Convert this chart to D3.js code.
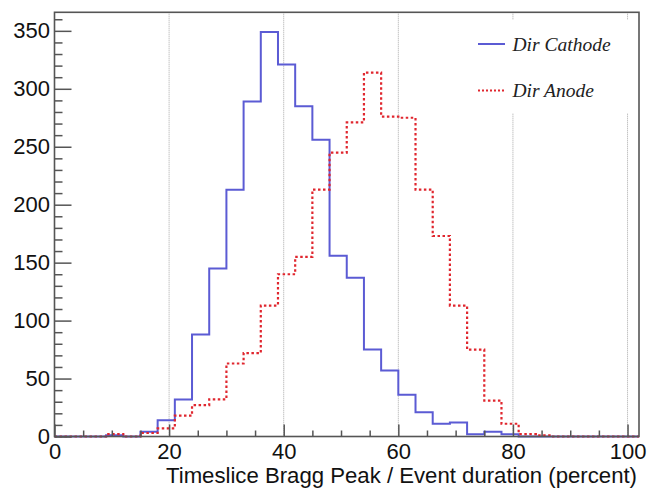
<!DOCTYPE html>
<html>
<head>
<meta charset="utf-8">
<script src="https://cdn.jsdelivr.net/npm/d3@7"></script>
<style>
  html, body { margin: 0; padding: 0; background: #fff; }
  svg { display: block; }
</style>
</head>
<body>
<svg id="chart" width="647" height="492"></svg>
<script>
// ---- data ----
const binEdges = d3.range(0, 103, 3); // 0,3,...,102 (34 bins)
const cathodeCounts = [0, 0, 0, 1, 0, 4, 14, 32, 88, 145, 213, 289, 349, 321, 285, 256, 156, 137,
                       75, 57, 36, 21, 11, 12, 2, 4, 2, 0, 0, 0, 0, 0, 0, 0];
const anodeCounts   = [0, 0, 0, 2, 0, 3, 7, 18, 27, 32, 63, 72, 113, 140, 155, 213, 245, 271,
                       314, 276, 275, 213, 173, 113, 75, 31, 11, 2, 1, 0, 0, 0, 0, 0];
const seriesNames = ["Dir Cathode", "Dir Anode"];
const xMajorTicks = [0, 20, 40, 60, 80, 100];
const yMajorTicks = [0, 50, 100, 150, 200, 250, 300, 350];
const xTitle = "Timeslice Bragg Peak / Event duration (percent)";

// ---- layout ----
const L = 54.5, R = 639, T = 12.3, B = 436.5;
const svg = d3.select("#chart");
const x = d3.scaleLinear().domain([0, 102]).range([L, R]);
const y = d3.scaleLinear().domain([0, 366]).range([B, T]);

const axisColor = "#555";
const tickFont = "'Liberation Sans', Arial, Helvetica, sans-serif";

// grid (vertical dotted lines)
svg.append("g").selectAll("line")
  .data(xMajorTicks.filter(d => d > 0))
  .join("line")
  .attr("x1", d => x(d)).attr("x2", d => x(d))
  .attr("y1", T).attr("y2", B)
  .attr("stroke", "#a8a8a8").attr("stroke-width", 1)
  .attr("stroke-dasharray", "1,1");

// histograms
function stepPoints(counts) {
  const pts = [[binEdges[0], 0]];
  counts.forEach((c, i) => { pts.push([binEdges[i], c]); pts.push([binEdges[i + 1], c]); });
  pts.push([binEdges[binEdges.length - 1], 0]);
  return pts;
}
const line = d3.line().x(d => x(d[0])).y(d => y(d[1]));

svg.append("path").datum(stepPoints(cathodeCounts))
  .attr("d", line).attr("fill", "none")
  .attr("stroke", "#5b5bd4").attr("stroke-width", 2);
svg.append("path").datum(stepPoints(anodeCounts))
  .attr("d", line).attr("fill", "none")
  .attr("stroke", "#e0262e").attr("stroke-width", 2.2)
  .attr("stroke-dasharray", "2.5,2.5");

// legend box (white, hides grid)
const lg = svg.append("g");
lg.append("rect").attr("x", 468).attr("y", 20).attr("width", 166).attr("height", 93).attr("fill", "#fff");
const legendY = [44, 90.5];
const legendStyles = [
  {stroke: "#5b5bd4", dash: null, w: 2},
  {stroke: "#e0262e", dash: "2,2", w: 1.8}
];
seriesNames.forEach((name, i) => {
  lg.append("line").attr("x1", 478).attr("x2", 505).attr("y1", legendY[i]).attr("y2", legendY[i])
    .attr("stroke", legendStyles[i].stroke).attr("stroke-width", legendStyles[i].w)
    .attr("stroke-dasharray", legendStyles[i].dash);
  lg.append("text").attr("x", 512.5).attr("y", legendY[i] + 6.5)
    .attr("font-family", "'Liberation Serif', 'Times New Roman', serif")
    .attr("font-style", "italic").attr("font-size", 19.5).attr("fill", "#222")
    .text(name);
});

// axes
const xAxis = svg.append("g").attr("transform", `translate(0,${B})`)
  .call(d3.axisBottom(x).tickValues(xMajorTicks).tickSize(-12).tickPadding(6.5).tickFormat(d3.format("d")));
const xMinor = svg.append("g").attr("transform", `translate(0,${B})`)
  .call(d3.axisBottom(x).tickValues(d3.range(0, 102, 5).filter(d => d % 20 !== 0)).tickSize(-6).tickFormat(""));
const yAxis = svg.append("g").attr("transform", `translate(${L},0)`)
  .call(d3.axisLeft(y).tickValues(yMajorTicks).tickSize(-17).tickPadding(4.5).tickFormat(d3.format("d")));
const yMinor = svg.append("g").attr("transform", `translate(${L},0)`)
  .call(d3.axisLeft(y).tickValues(d3.range(0, 366, 10).filter(d => d % 50 !== 0)).tickSize(-8).tickFormat(""));

[xAxis, xMinor, yAxis, yMinor].forEach(g => {
  g.select(".domain").remove();
  g.selectAll(".tick line").attr("stroke", axisColor).attr("stroke-width", 1.5);
  g.selectAll("text").attr("font-family", tickFont).attr("font-size", 22).attr("fill", "#111");
});

// frame
svg.append("rect").attr("x", L).attr("y", T).attr("width", R - L).attr("height", B - T)
  .attr("fill", "none").attr("stroke", axisColor).attr("stroke-width", 1.6);

// x title
svg.append("text").attr("x", 637).attr("y", 483).attr("text-anchor", "end")
  .attr("font-family", tickFont).attr("font-size", 21.5).attr("fill", "#111")
  .attr("textLength", 471).attr("lengthAdjust", "spacingAndGlyphs")
  .text(xTitle);
</script>
</body>
</html>
